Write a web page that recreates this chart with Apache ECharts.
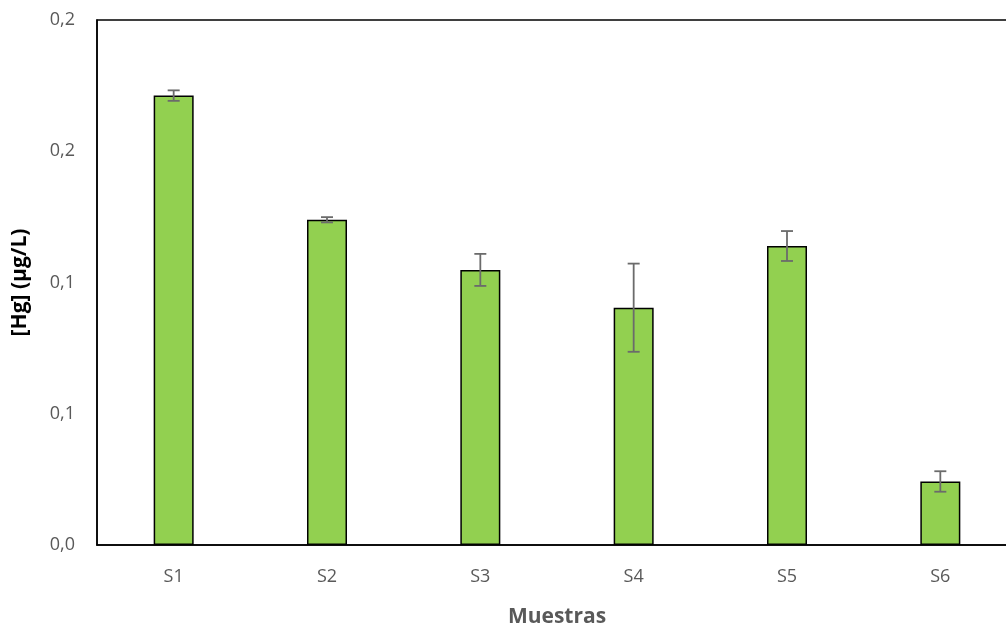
<!DOCTYPE html>
<html>
<head>
<meta charset="utf-8">
<script src="https://cdn.jsdelivr.net/npm/echarts@6/dist/echarts.min.js"></script>
<style>
  html, body { margin: 0; padding: 0; background: #fff; }
  #chart { width: 1006px; height: 630px; }
</style>
</head>
<body>
<div id="chart"></div>
<script>
// Mercury concentration per sample, with standard deviation
const categories = ['S1', 'S2', 'S3', 'S4', 'S5', 'S6'];
const hgValues = [0.1712, 0.1239, 0.1048, 0.0904, 0.1139, 0.0242];
const hgErrors = [0.0020, 0.0010, 0.0061, 0.0168, 0.0057, 0.0039];
const yTicks = [0, 0.05, 0.1, 0.15, 0.2];
const yTickLabels = ['0,0', '0,1', '0,1', '0,2', '0,2'];

const font = '"Open Sans", "Noto Sans", sans-serif';
const errorData = categories.map((c, i) => [i, hgValues[i] - hgErrors[i], hgValues[i] + hgErrors[i]]);

const chart = echarts.init(document.getElementById('chart'));
chart.setOption({
  animation: false,
  grid: {
    left: 97, top: 20, width: 920, height: 525,
    outerBoundsMode: 'none',
    show: true, borderColor: '#000', borderWidth: 1.5, backgroundColor: 'transparent'
  },
  xAxis: {
    type: 'category',
    data: categories,
    axisLine: { lineStyle: { color: '#000', width: 1.5 } },
    axisTick: { show: false },
    axisLabel: { color: '#595959', fontFamily: font, fontSize: 18, margin: 23 },
    name: 'Muestras',
    nameLocation: 'middle',
    nameGap: 62,
    nameTextStyle: { color: '#595959', fontFamily: font, fontSize: 21, fontWeight: 'bold' }
  },
  yAxis: {
    type: 'value',
    min: 0, max: 0.2, interval: 0.05,
    splitLine: { show: false },
    axisLine: { show: true, lineStyle: { color: '#000', width: 1.5 } },
    axisTick: { show: false },
    axisLabel: {
      color: '#595959', fontFamily: font, fontSize: 18, margin: 22,
      formatter: v => {
        const i = yTicks.findIndex(t => Math.abs(t - v) < 1e-9);
        return i >= 0 ? yTickLabels[i] : '';
      }
    },
    name: '[Hg] (µg/L)',
    nameLocation: 'middle',
    nameGap: 66,
    nameTextStyle: { color: '#000', fontFamily: font, fontSize: 21, fontWeight: 'bold' }
  },
  series: [
    {
      type: 'bar',
      data: hgValues,
      barWidth: 40,
      itemStyle: { color: '#92D050', borderColor: '#000', borderWidth: 1.5 }
    },
    {
      type: 'custom',
      data: errorData,
      z: 10,
      renderItem: (params, api) => {
        const x = api.value(0);
        const lo = api.coord([x, api.value(1)]);
        const hi = api.coord([x, api.value(2)]);
        const half = 6;
        const style = { stroke: '#6b6b6b', lineWidth: 1.8 };
        return {
          type: 'group',
          children: [
            { type: 'line', shape: { x1: hi[0], y1: hi[1], x2: lo[0], y2: lo[1] }, style },
            { type: 'line', shape: { x1: hi[0] - half, y1: hi[1], x2: hi[0] + half, y2: hi[1] }, style },
            { type: 'line', shape: { x1: lo[0] - half, y1: lo[1], x2: lo[0] + half, y2: lo[1] }, style }
          ]
        };
      }
    }
  ]
});
</script>
</body>
</html>
